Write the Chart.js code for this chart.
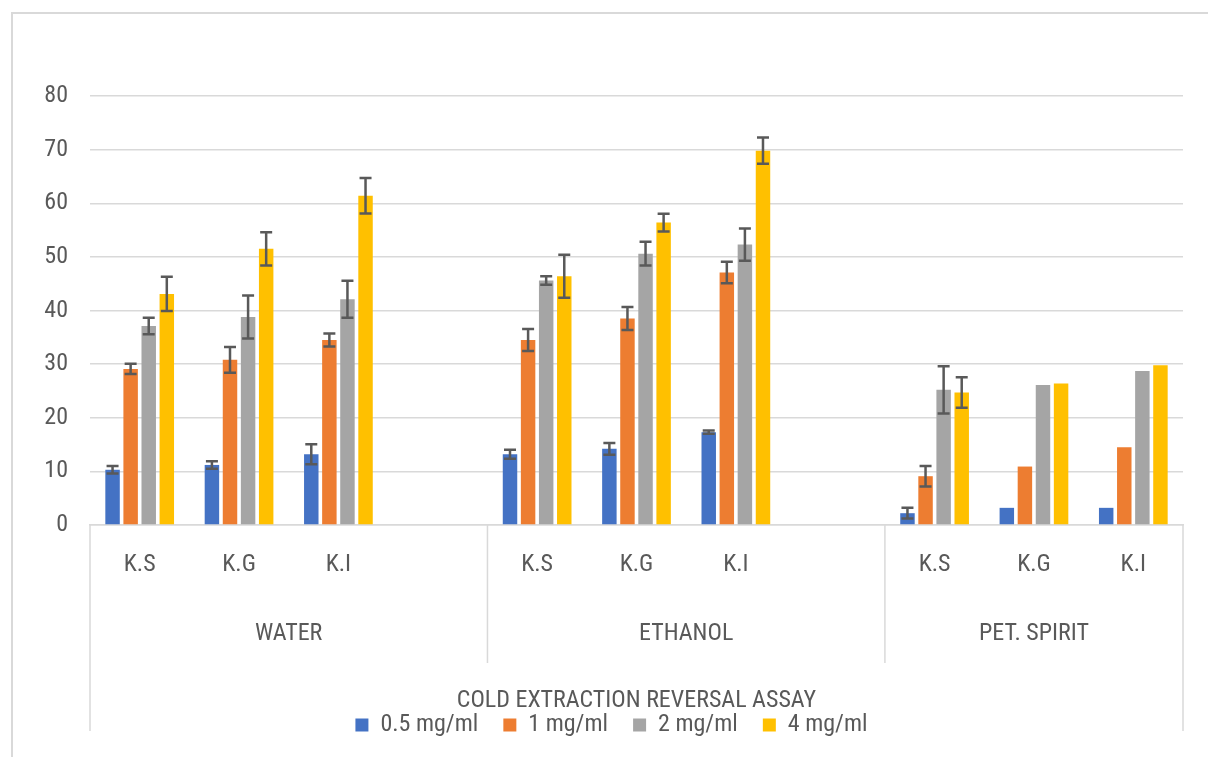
<!DOCTYPE html>
<html>
<head>
<meta charset="utf-8">
<script src="https://cdn.jsdelivr.net/npm/chart.js@4.4.1/dist/chart.umd.min.js"></script>
<style>
  html, body { margin: 0; padding: 0; background: #fff; overflow: hidden; }
  #wrap { position: relative; width: 1208px; height: 757px; }
  #frame { position: absolute; left: 11px; top: 12px; width: 1300px; height: 900px;
           border-left: 2px solid #d9d9d9; border-top: 2px solid #d9d9d9; box-sizing: border-box; }
  canvas { position: absolute; left: 0; top: 0; }
</style>
</head>
<body>
<div id="wrap">
  <div id="frame"></div>
  <canvas id="grafico" width="1208" height="757"></canvas>
</div>
<script>
const FONT = '"Liberation Sans Narrow", "Roboto Condensed", "DejaVu Sans Condensed", sans-serif';
const TXT = '#595959';

const categorias = ['K.S', 'K.G', 'K.I', '', 'K.S', 'K.G', 'K.I', '', 'K.S', 'K.G', 'K.I'];
const grupos = ['WATER', 'ETHANOL', 'PET. SPIRIT'];
const tamGrupos = [4, 4, 3];
const tituloEje = 'COLD EXTRACTION REVERSAL ASSAY';
const yTicks = [0, 10, 20, 30, 40, 50, 60, 70, 80];

const series = ['0.5 mg/ml', '1 mg/ml', '2 mg/ml', '4 mg/ml'];
const colores = ['#4472C4', '#ED7D31', '#A5A5A5', '#FFC000'];

const v05 = [10.3, 11.2, 13.2, null, 13.2, 14.2, 17.3, null, 2.2, 3.2, 3.2];
const v1  = [29.1, 30.8, 34.5, null, 34.5, 38.5, 47.1, null, 9.1, 10.9, 14.5];
const v2  = [37.1, 38.8, 42.1, null, 45.6, 50.6, 52.3, null, 25.2, 26.1, 28.7];
const v4  = [43.1, 51.5, 61.4, null, 46.4, 56.4, 69.8, null, 24.7, 26.4, 29.8];

const e05 = [0.7, 0.7, 1.85, null, 0.85, 1.1, 0.3, null, 1.0, null, null];
const e1  = [0.95, 2.4, 1.2, null, 2.05, 2.15, 2.0, null, 1.9, null, null];
const e2  = [1.55, 4.0, 3.45, null, 0.8, 2.2, 3.0, null, 4.4, null, null];
const e4  = [3.2, 3.1, 3.3, null, 4.0, 1.65, 2.45, null, 2.85, null, null];

const valores = [v05, v1, v2, v4];
const errores = [e05, e1, e2, e4];

const PAD_BOTTOM = 10;
const AREA_BOTTOM = 525;

// barras de error
const errorBars = {
  id: 'errorBars',
  afterDatasetsDraw(chart) {
    const ctx = chart.ctx;
    const y = chart.scales.y;
    ctx.save();
    ctx.strokeStyle = '#595959';
    ctx.lineWidth = 2.5;
    chart.data.datasets.forEach((ds, i) => {
      const meta = chart.getDatasetMeta(i);
      ds.errs.forEach((e, j) => {
        if (e == null || ds.data[j] == null) return;
        const x = meta.data[j].x;
        const top = y.getPixelForValue(ds.data[j] + e);
        const bot = y.getPixelForValue(ds.data[j] - e);
        ctx.beginPath();
        ctx.moveTo(x, top); ctx.lineTo(x, bot);
        ctx.moveTo(x - 6, top); ctx.lineTo(x + 6, top);
        ctx.moveTo(x - 6, bot); ctx.lineTo(x + 6, bot);
        ctx.stroke();
      });
    });
    ctx.restore();
  }
};

// etiquetas de grupo, separadores y titulo del eje
const gruposEje = {
  id: 'gruposEje',
  afterDraw(chart) {
    const ctx = chart.ctx;
    const xs = chart.scales.x;
    const catW = (xs.right - xs.left) / categorias.length;
    const y0 = xs.top;
    ctx.save();
    ctx.strokeStyle = '#d9d9d9';
    ctx.lineWidth = 1.5;
    ctx.fillStyle = TXT;
    ctx.font = '24px ' + FONT;
    ctx.textAlign = 'center';
    ctx.textBaseline = 'middle';
    let k = 0;
    grupos.forEach((g, gi) => {
      const left = xs.left + k * catW;
      k += tamGrupos[gi];
      const right = xs.left + k * catW;
      ctx.fillText(g, (left + right) / 2, y0 + 109);
      if (gi < grupos.length - 1) {
        ctx.beginPath();
        ctx.moveTo(right, y0); ctx.lineTo(right, y0 + 138);
        ctx.stroke();
      }
    });
    ctx.beginPath();
    ctx.moveTo(xs.left, y0); ctx.lineTo(xs.left, y0 + 206);
    ctx.moveTo(xs.right, y0); ctx.lineTo(xs.right, y0 + 206);
    ctx.stroke();
    ctx.fillText(tituloEje, (xs.left + xs.right) / 2, y0 + 176);
    ctx.restore();
  }
};

const ctx = document.getElementById('grafico').getContext('2d');
new Chart(ctx, {
  type: 'bar',
  data: {
    labels: categorias,
    datasets: series.map((s, i) => ({
      label: s,
      data: valores[i],
      errs: errores[i],
      backgroundColor: colores[i],
      borderWidth: 0,
      categoryPercentage: 0.728,
      barPercentage: 0.8
    }))
  },
  options: {
    responsive: false,
    animation: false,
    devicePixelRatio: 1,
    layout: { padding: { left: 40, right: 25, top: 96, bottom: PAD_BOTTOM } },
    plugins: {
      tooltip: { enabled: false },
      legend: {
        position: 'bottom',
        labels: {
          color: TXT,
          font: { family: FONT, size: 24 },
          boxWidth: 13,
          boxHeight: 13,
          padding: 25
        }
      }
    },
    scales: {
      x: {
        grid: { display: false, drawTicks: false },
        border: { display: true, color: '#d9d9d9', width: 1.5 },
        ticks: {
          color: TXT,
          font: { family: FONT, size: 24 },
          padding: 26,
          autoSkip: false,
          maxRotation: 0
        },
        afterFit(scale) {
          const lg = scale.chart.legend;
          scale.height = 757 - PAD_BOTTOM - (lg ? lg.height : 0) - AREA_BOTTOM;
        }
      },
      y: {
        min: 0,
        max: 80,
        afterBuildTicks(scale) { scale.ticks = yTicks.map(v => ({ value: v })); },
        grid: { color: '#d9d9d9', lineWidth: 1.5, drawTicks: false },
        border: { display: false },
        ticks: {
          color: TXT,
          font: { family: FONT, size: 24 },
          padding: 22
        },
        afterFit(scale) { scale.width = 50; }
      }
    }
  },
  plugins: [errorBars, gruposEje]
});
</script>
</body>
</html>
